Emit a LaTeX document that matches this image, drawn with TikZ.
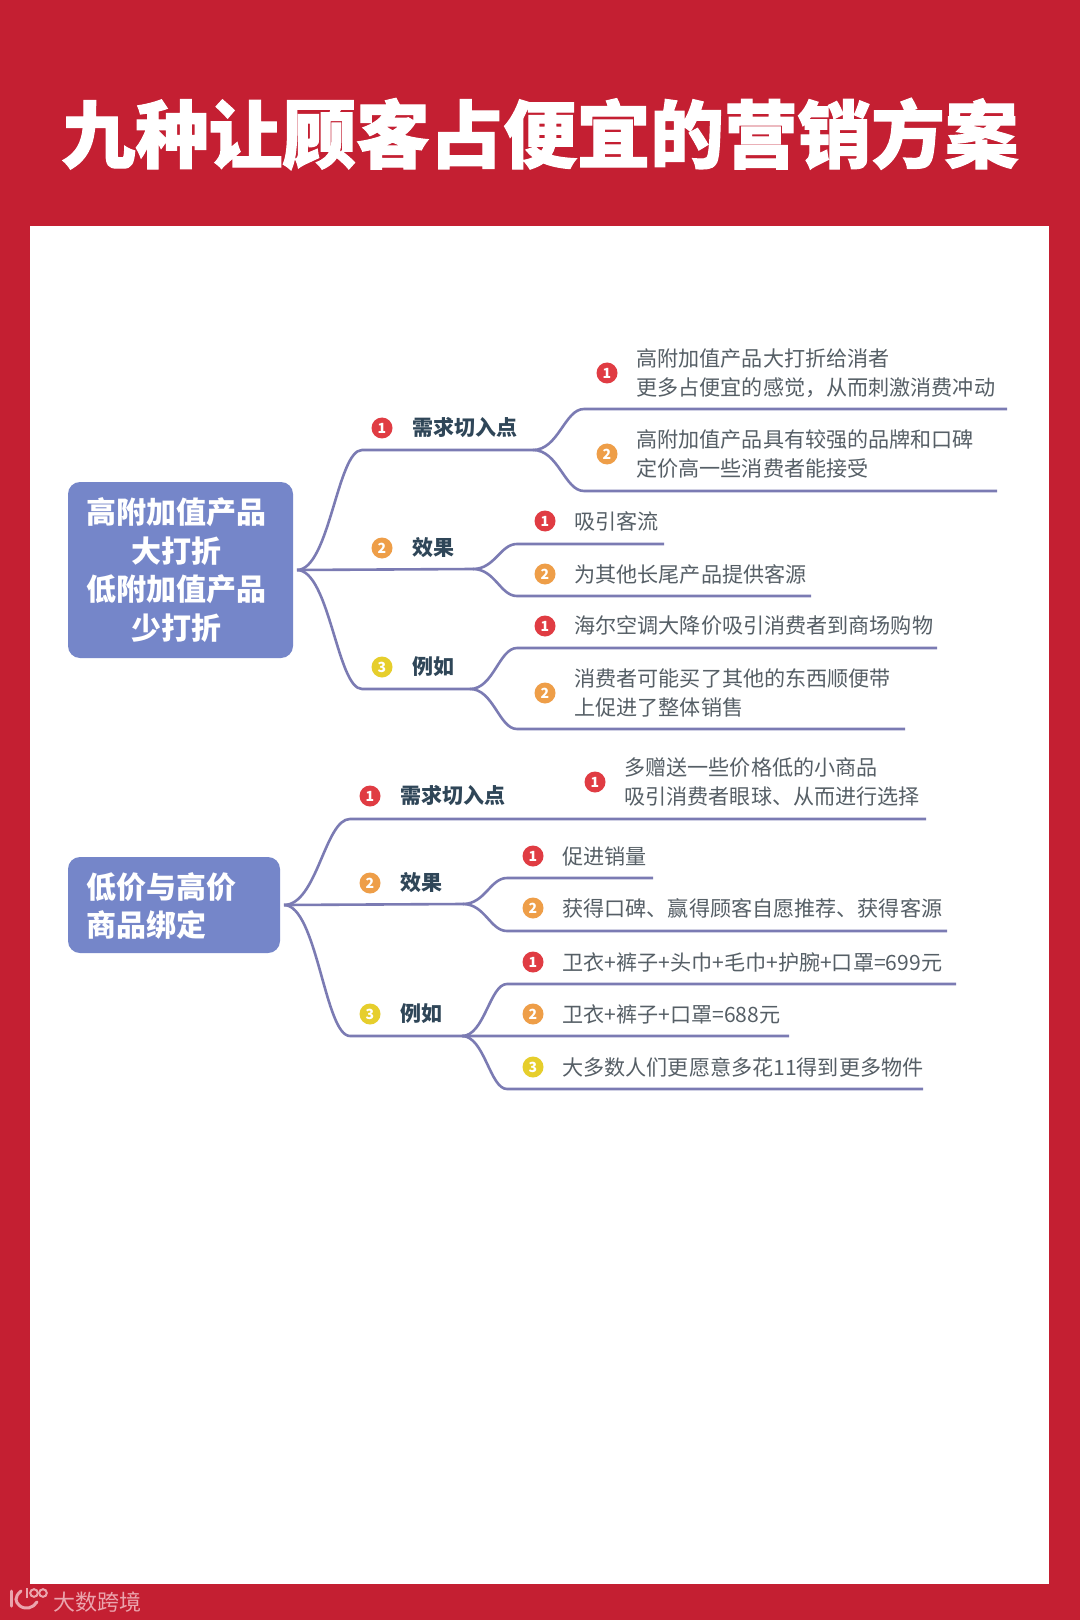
\documentclass[tikz,border=0pt]{standalone}
\usepackage{fontspec}
\usetikzlibrary{positioning,calc}
\setmainfont{Noto Sans CJK SC}
\newfontfamily\titlefont[BoldFeatures={FakeBold=1.5}]{Noto Sans CJK SC}
\definecolor{pagered}{HTML}{C41F32}
\definecolor{boxblue}{HTML}{7586C9}
\definecolor{linepurple}{HTML}{7B7BB3}
\definecolor{headtext}{HTML}{2F4658}
\definecolor{leaftext}{HTML}{565F66}
\definecolor{markred}{HTML}{E03C43}
\definecolor{markorange}{HTML}{EE9E48}
\definecolor{markyellow}{HTML}{E6CE2C}
\definecolor{logopink}{HTML}{EBA5AE}
\tikzset{
    rootbox/.style={fill=boxblue, rounded corners=6pt, outer sep=2pt, inner sep=0pt},
    roottext/.style={inner sep=0pt, text=white, font=\fontsize{15}{19.3}\selectfont\bfseries},
    marknode/.style={circle, fill=#1, inner sep=0pt, minimum size=10.5pt, text=white,
        font=\fontsize{7}{7}\selectfont\bfseries},
    headnode/.style={anchor=west, inner sep=0pt, text=headtext, font=\fontsize{10.5}{10.5}\selectfont\bfseries},
    leafnode/.style={anchor=west, inner sep=0pt, align=left, text=leaftext,
        font=\fontsize{10.55}{14.5}\selectfont},
    branch/.style={draw=linepurple, line width=1.3pt},
}
\begin{document}
\begin{tikzpicture}[x=0.5pt,y=-0.5pt]
    \fill[pagered] (0,0) rectangle (1080,1620);
    \fill[white] (30,226) rectangle (1049,1584);
    \node[inner sep=0pt, text=white, font=\fontsize{36.8}{36.8}\titlefont\bfseries] (title) at (540,134) {九种让顾客占便宜的营销方案};
    \node[rootbox, minimum width=112.5pt, minimum height=88pt] (ra) at (180.5,570) {};
    \node[roottext, align=center] (ra-txt) at (176,570) {高附加值产品\\大打折\\低附加值产品\\少打折};
    \node[rootbox, minimum width=106pt, minimum height=48pt] (rb) at (174,905) {};
    \node[roottext, align=left, anchor=west] (rb-txt) at (86,906) {低价与高价\\商品绑定};
    \foreach \name/\x/\y/\col/\n/\val in {
        a1/382/428/markred/1/需求切入点,
        a2/382/548/markorange/2/效果,
        a3/382/667/markyellow/3/例如,
        b1/370/796/markred/1/需求切入点,
        b2/370/883/markorange/2/效果,
        b3/370/1014/markyellow/3/例如
    } {
        \node[marknode=\col] (\name-mark) at (\x,\y) {\n};
        \node[headnode, right=15pt of \name-mark.center] (\name-txt) {\val};
    }
    \foreach \name/\x/\y/\col/\n/\val in {
        a11/607/373/markred/1/{高附加值产品大打折给消者\\更多占便宜的感觉，从而刺激消费冲动},
        a12/607/454/markorange/2/{高附加值产品具有较强的品牌和口碑\\定价高一些消费者能接受},
        a21/545/521/markred/1/吸引客流,
        a22/545/574/markorange/2/为其他长尾产品提供客源,
        a31/545/626/markred/1/海尔空调大降价吸引消费者到商场购物,
        a32/545/693/markorange/2/{消费者可能买了其他的东西顺便带\\上促进了整体销售},
        b11/595/782/markred/1/{多赠送一些价格低的小商品\\吸引消费者眼球、从而进行选择},
        b21/533/856/markred/1/促进销量,
        b22/533/908/markorange/2/获得口碑、赢得顾客自愿推荐、获得客源,
        b31/533/962/markred/1/卫衣+裤子+头巾+毛巾+护腕+口罩=699元,
        b32/533/1014/markorange/2/卫衣+裤子+口罩=688元,
        b33/533/1067/markyellow/3/大多数人们更愿意多花11得到更多物件
    } {
        \node[marknode=\col] (\name-mark) at (\x,\y) {\n};
        \node[leafnode, right=14.5pt of \name-mark.center] (\name-txt) {\val};
    }
    \foreach \name/\x/\y in {
        a1/362/450, a1e/533/450,
        a2/473/569,
        a3/362/689, a3e/470/689,
        a11/584/409, a11e/1007/409,
        a12/584/491, a12e/997/491,
        a21/517/544, a21e/664/544,
        a22/517/596, a22e/811/596,
        a31/517/648, a31e/937/648,
        a32/517/729, a32e/905/729,
        b1/350/819, b1e/926/819,
        b2/463/904,
        b3/350/1036, b3e/789/1036,
        b3j/462/1036,
        b21/507/878, b21e/653/878,
        b22/507/931, b22e/947/931,
        b31/507/984, b31e/956/984,
        b33/507/1089, b33e/923/1089
    } {
        \coordinate (\name-pt) at (\x,\y);
    }
    \foreach \from/\to/\tail in {
        ra.east/a1-pt/a1e-pt,
        ra.east/a3-pt/a3e-pt,
        a1e-pt/a11-pt/a11e-pt,
        a1e-pt/a12-pt/a12e-pt,
        a2-pt/a21-pt/a21e-pt,
        a2-pt/a22-pt/a22e-pt,
        a3e-pt/a31-pt/a31e-pt,
        a3e-pt/a32-pt/a32e-pt,
        rb.east/b1-pt/b1e-pt,
        rb.east/b3-pt/b3e-pt,
        b2-pt/b21-pt/b21e-pt,
        b2-pt/b22-pt/b22e-pt,
        b3j-pt/b31-pt/b31e-pt,
        b3j-pt/b33-pt/b33e-pt%
    } {
        \draw[branch] (\from) .. controls ($(\from)!0.5!(\to |- \from)$) and ($(\to)!0.38!(\from |- \to)$) .. (\to) -- (\tail);
    }
    \draw[branch] (ra.east) -- (a2-pt);
    \draw[branch] (rb.east) -- (b2-pt);
    \node[anchor=west, inner sep=0pt, text=logopink, font=\fontsize{11}{11}\selectfont] (mark) at (53,1602) {大数跨境};
    \draw[logopink, line width=1.5pt, line cap=round] (11,1591) -- (11,1606);
    \draw[logopink, line width=1.5pt, line cap=round] (21,1591) .. controls (14,1597) and (15,1602) .. (20,1606) .. controls (26,1610) and (33,1608) .. (37,1602);
    \draw[logopink, line width=1pt] (27,1588) -- (27,1598);
    \draw[logopink, line width=1pt] (34,1593) circle (3.8);
    \draw[logopink, line width=1pt] (43,1593) circle (3.8);
\end{tikzpicture}
\end{document}
